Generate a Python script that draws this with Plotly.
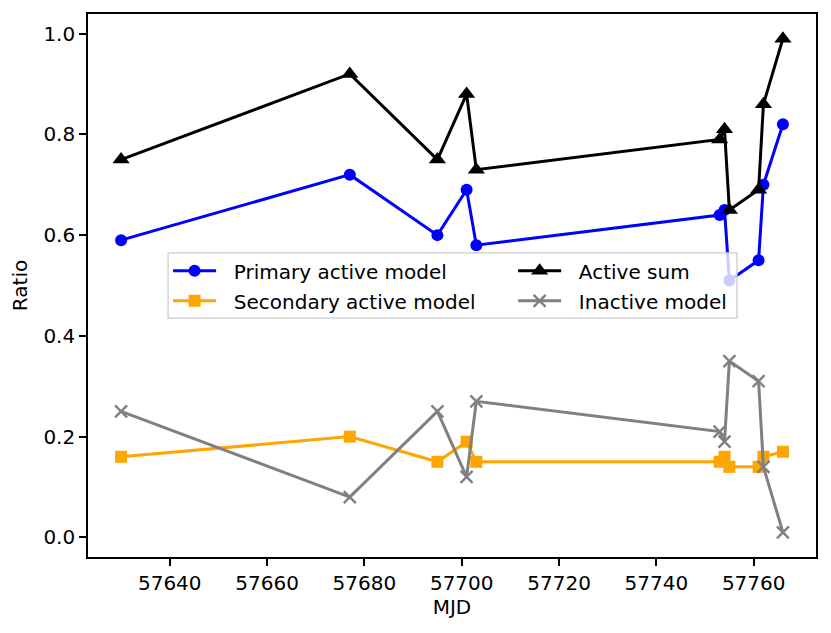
import plotly.graph_objects as go

mjd = [57630, 57677, 57695, 57701, 57703, 57753, 57754, 57755, 57761, 57762, 57766]
primary = [0.59, 0.72, 0.60, 0.69, 0.58, 0.64, 0.65, 0.51, 0.55, 0.70, 0.82]
secondary = [0.16, 0.20, 0.15, 0.19, 0.15, 0.15, 0.16, 0.14, 0.14, 0.16, 0.17]
active_sum = [0.75, 0.92, 0.75, 0.88, 0.73, 0.79, 0.81, 0.65, 0.69, 0.86, 0.99]
inactive = [0.25, 0.08, 0.25, 0.12, 0.27, 0.21, 0.19, 0.35, 0.31, 0.14, 0.01]

x_ticks = [57640, 57660, 57680, 57700, 57720, 57740, 57760]
y_ticks = [0.0, 0.2, 0.4, 0.6, 0.8, 1.0]

FONT = "DejaVu Sans"
FS = 20
LW = 3
PAD = "\u00a0\u00a0"

fig = go.Figure()
fig.add_trace(go.Scatter(x=mjd, y=primary, mode="lines+markers", name=PAD + "Primary active model",
                         line=dict(color="#0000ff", width=LW), legend="legend", legendgroup="a",
                         marker=dict(symbol="circle", size=12, color="#0000ff")))
fig.add_trace(go.Scatter(x=mjd, y=secondary, mode="lines+markers", name=PAD + "Secondary active model",
                         line=dict(color="#ffa500", width=LW), legend="legend", legendgroup="b",
                         marker=dict(symbol="square", size=12, color="#ffa500")))
fig.add_trace(go.Scatter(x=mjd, y=active_sum, mode="lines+markers", name=PAD + "Active sum",
                         line=dict(color="#000000", width=LW), legend="legend2", legendgroup="c",
                         marker=dict(symbol="triangle-up", size=15, color="#000000")))
fig.add_trace(go.Scatter(x=mjd, y=inactive, mode="lines+markers", name=PAD + "Inactive model",
                         line=dict(color="#808080", width=LW), legend="legend2", legendgroup="d",
                         marker=dict(symbol="x-thin", size=12, color="#808080",
                                     line=dict(color="#808080", width=2.4))))

axis_common = dict(showgrid=False, zeroline=False, showline=True, linecolor="black", linewidth=1.6,
                   mirror=True, ticks="outside", ticklen=7, tickwidth=1.6, tickcolor="black",
                   automargin=False, tickfont=dict(family=FONT, size=FS, color="black"))

legend_common = dict(xanchor="left", yanchor="top", orientation="v",
                     bgcolor="rgba(0,0,0,0)", borderwidth=0,
                     font=dict(family=FONT, size=FS, color="black"),
                     itemwidth=43, tracegroupgap=1, traceorder="grouped")

# legend frame (semi-transparent like matplotlib)
fig.add_shape(type="rect", xref="paper", yref="paper", x0=0.11, x1=0.8915, y0=0.440, y1=0.560,
              fillcolor="rgba(255,255,255,0.8)", line=dict(color="#cccccc", width=1.3), layer="above")

fig.update_layout(
    width=823, height=625,
    margin=dict(l=80, r=15, t=6, b=76),
    paper_bgcolor="white", plot_bgcolor="white",
    font=dict(family=FONT, size=FS, color="black"),
    xaxis=dict(range=[57623.2, 57772.8], tickvals=x_ticks, ticktext=[str(v) for v in x_ticks],
               title=dict(text="MJD", font=dict(family=FONT, size=FS), standoff=6), **axis_common),
    yaxis=dict(range=[-0.039, 1.039], tickvals=y_ticks, ticktext=[f"{v:.1f}" for v in y_ticks],
               title=dict(text="Ratio", font=dict(family=FONT, size=FS), standoff=10), **axis_common),
    legend=dict(x=0.11, y=0.563, **legend_common),
    legend2=dict(x=0.584, y=0.563, **legend_common),
    showlegend=True,
)

fig.write_html("out.html")
